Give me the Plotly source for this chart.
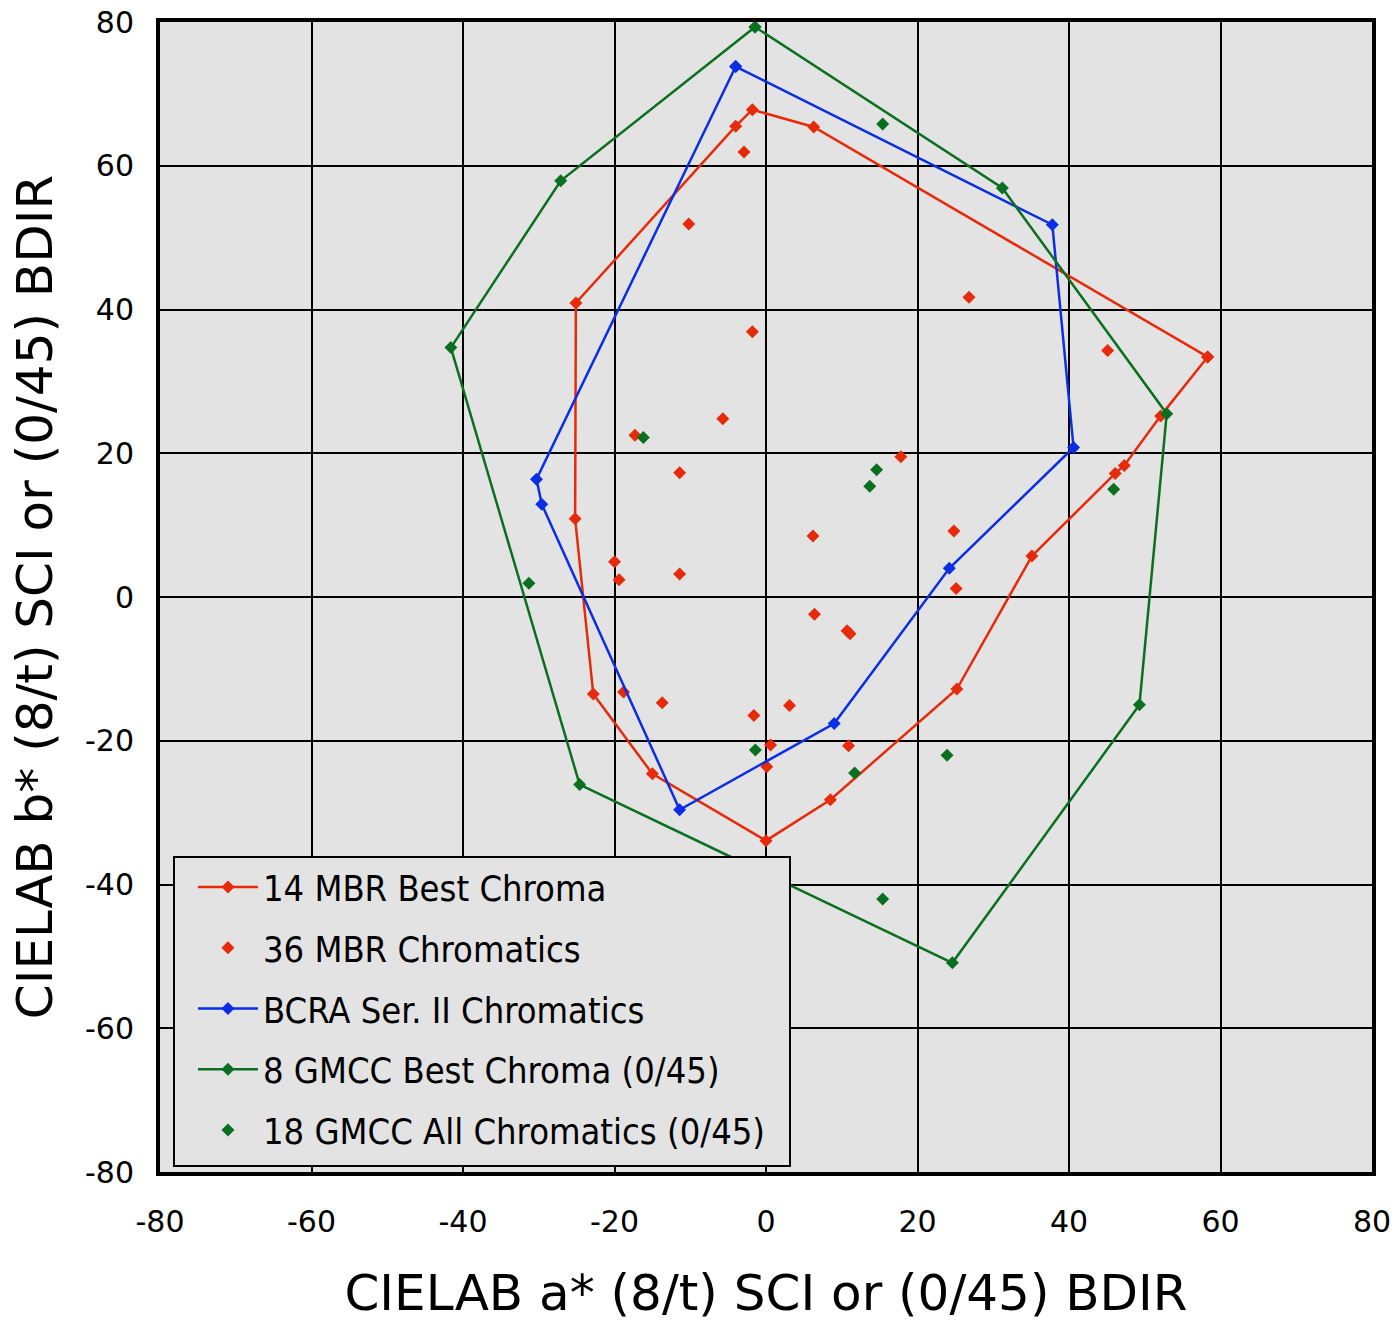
import plotly.graph_objects as go

# 14 MBR Best Chroma (closed polygon)
mbr_best_a = [58.3, 52.1, 47.3, 46.1, 35.1, 25.2, 8.5, 0.0, -15.0, -22.8, -25.2, -25.1, -4.0, -1.8, 6.3, 58.3]
mbr_best_b = [33.4, 25.2, 18.3, 17.2, 5.7, -12.8, -28.2, -33.9, -24.6, -13.5, 10.9, 40.9, 65.5, 67.8, 65.4, 33.4]

# 36 MBR Chromatics (scatter)
mbr_all_a = [-2.9, -10.2, 26.8, -1.8, 45.1, -5.7, -17.3, 17.8, -11.4, 24.8, 6.2, -20.0, -11.4,
             -19.4, 25.1, 6.4, 10.7, 11.1, -18.8, -13.7, 3.1, -1.6, 0.6, 10.9, 0.1]
mbr_all_b = [61.9, 51.9, 41.7, 36.9, 34.3, 24.8, 22.5, 19.5, 17.3, 9.2, 8.5, 4.9, 3.2,
             2.4, 1.2, -2.4, -4.7, -5.1, -13.2, -14.7, -15.1, -16.5, -20.6, -20.7, -23.6]

# BCRA Ser. II Chromatics (closed polygon)
bcra_a = [-4.0, 37.8, 40.6, 24.2, 9.0, -11.4, -29.6, -30.3, -4.0]
bcra_b = [73.8, 51.8, 20.8, 4.0, -17.6, -29.6, 12.9, 16.4, 73.8]

# 8 GMCC Best Chroma (closed polygon)
gmcc_best_a = [-1.45, 31.2, 52.9, 49.3, 24.6, -24.6, -41.6, -27.1, -1.45]
gmcc_best_b = [79.3, 56.9, 25.5, -15.0, -50.9, -26.1, 34.7, 57.9, 79.3]

# 18 GMCC All Chromatics (scatter)
gmcc_all_a = [15.4, -16.2, 14.6, 13.7, 45.9, -31.3, -1.4, 11.7, 23.9, 15.4]
gmcc_all_b = [65.8, 22.2, 17.7, 15.4, 15.0, 1.9, -21.3, -24.5, -22.0, -42.0]

tick_vals = [-80, -60, -40, -20, 0, 20, 40, 60, 80]
tick_text = ["-80", "-60", "-40", "-20", "0", "20", "40", "60", "80"]

RED = "#E62A0A"
BLUE = "#0A2EE6"
GREEN = "#0A7020"
FONT = "Verdana, DejaVu Sans, sans-serif"
LEGEND_FONT = "DejaVu Sans Condensed, DejaVu Sans, sans-serif"

fig = go.Figure()
fig.add_trace(go.Scatter(x=mbr_best_a, y=mbr_best_b, mode="lines+markers", name="14 MBR Best Chroma",
                         line=dict(color=RED, width=2.5), marker=dict(symbol="diamond", size=10, color=RED),
                         legendgroup="a"))
fig.add_trace(go.Scatter(x=mbr_all_a, y=mbr_all_b, mode="markers", name="36 MBR Chromatics",
                         marker=dict(symbol="diamond", size=10, color=RED), legendgroup="b"))
fig.add_trace(go.Scatter(x=bcra_a, y=bcra_b, mode="lines+markers", name="BCRA Ser. II Chromatics",
                         line=dict(color=BLUE, width=2.5), marker=dict(symbol="diamond", size=10, color=BLUE),
                         legendgroup="c"))
fig.add_trace(go.Scatter(x=gmcc_best_a, y=gmcc_best_b, mode="lines+markers", name="8 GMCC Best Chroma (0/45)",
                         line=dict(color=GREEN, width=2.5), marker=dict(symbol="diamond", size=10, color=GREEN),
                         legendgroup="d"))
fig.add_trace(go.Scatter(x=gmcc_all_a, y=gmcc_all_b, mode="markers", name="18 GMCC All Chromatics (0/45)",
                         marker=dict(symbol="diamond", size=10, color=GREEN), legendgroup="e"))

axis_common = dict(range=[-80, 80], tickvals=tick_vals, ticktext=tick_text, automargin=False,
                   showgrid=True, gridcolor="black", gridwidth=2,
                   zeroline=True, zerolinecolor="black", zerolinewidth=2,
                   showline=True, linecolor="black", linewidth=4, mirror=True,
                   ticks="", tickfont=dict(family=FONT, size=30, color="black"))

fig.update_layout(
    width=1397, height=1322,
    margin=dict(l=160, r=25, t=22, b=150),
    paper_bgcolor="white", plot_bgcolor="#E3E3E3",
    font=dict(family=FONT, color="black"),
    xaxis=dict(**axis_common, ticklabelstandoff=20,
               title=dict(text="CIELAB a* (8/t) SCI or (0/45) BDIR", font=dict(family=FONT, size=50), standoff=38)),
    yaxis=dict(**axis_common, ticklabelstandoff=16,
               title=dict(text="CIELAB b* (8/t) SCI or (0/45) BDIR", font=dict(family=FONT, size=50), standoff=18)),
    legend=dict(x=0.0272, y=0.2739, xanchor="left", yanchor="top", bgcolor="rgba(0,0,0,0)",
                borderwidth=0, font=dict(family=LEGEND_FONT, size=36),
                traceorder="grouped", tracegroupgap=11, itemwidth=60),
    shapes=[dict(type="rect", xref="paper", yref="paper", x0=0.01155, x1=0.5198, y0=0.00522, y1=0.2739,
                 fillcolor="#E3E3E3", line=dict(color="black", width=2), layer="above")],
    showlegend=True,
)

fig.write_html("out.html")
